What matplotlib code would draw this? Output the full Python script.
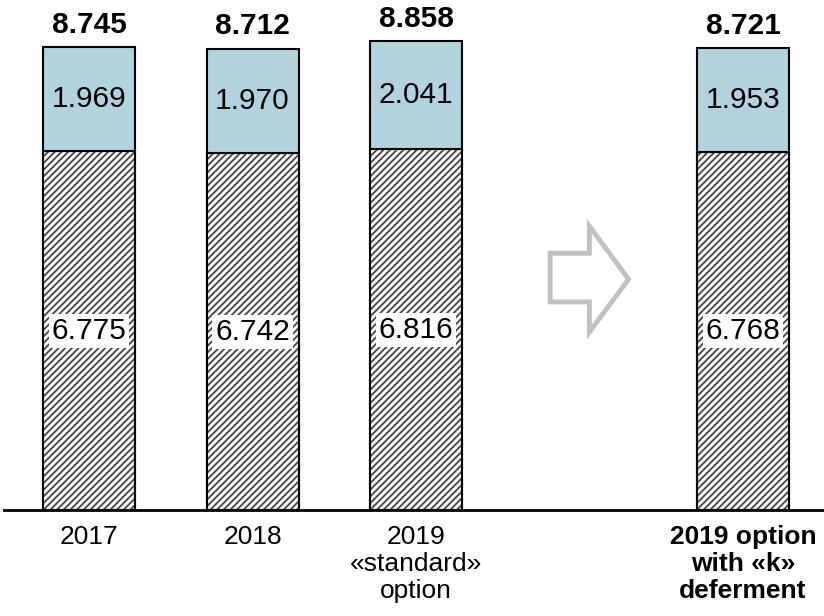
import matplotlib
matplotlib.use("Agg")
import matplotlib.pyplot as plt
from matplotlib.patches import Polygon

plt.rcParams['font.family'] = ['Liberation Sans', 'DejaVu Sans']
plt.rcParams['hatch.linewidth'] = 1.3

categories = ["2017", "2018", "2019\n«standard»\noption", "2019 option\nwith «k»\ndeferment"]
positions = [0, 1, 2, 4]
bottom_vals = [6.775, 6.742, 6.816, 6.768]
top_vals = [1.969, 1.970, 2.041, 1.953]
totals = [8.745, 8.712, 8.858, 8.721]
bottom_labels = ["6.775", "6.742", "6.816", "6.768"]
top_labels = ["1.969", "1.970", "2.041", "1.953"]
total_labels = ["8.745", "8.712", "8.858", "8.721"]

W, H = 824, 616
fig = plt.figure(figsize=(W / 100, H / 100), dpi=100)
ax = fig.add_axes([4 / W, 106 / H, 1 - 4 / W, 1 - 106 / H])

bw = 0.563
ax.bar(positions, bottom_vals, width=bw, color='white', edgecolor='#444444',
       hatch='/////', linewidth=1.5, zorder=2)
ax.bar(positions, bottom_vals, width=bw, color='none', edgecolor='black',
       linewidth=1.5, zorder=2)
ax.bar(positions, top_vals, width=bw, bottom=bottom_vals, color='#b2d2dd',
       edgecolor='black', linewidth=1.5, zorder=2)

for x, b, t, tot, bl, tl, totl in zip(positions, bottom_vals, top_vals, totals,
                                       bottom_labels, top_labels, total_labels):
    ax.text(x, b / 2, bl, ha='center', va='center', fontsize=21.5, zorder=4,
            bbox=dict(boxstyle='square,pad=0.1', facecolor='white', edgecolor='none'))
    ax.text(x, b + t / 2, tl, ha='center', va='center', fontsize=21.5, zorder=4)
    ax.annotate(totl, (x, tot), xytext=(0, 6), textcoords='offset points',
                ha='center', va='bottom', fontsize=21.5, fontweight='bold', zorder=4)

# decorative arrow between groups
arrow = Polygon([(2.82, 3.93), (3.06, 3.93), (3.06, 3.36), (3.30, 4.36),
                 (3.06, 5.36), (3.06, 4.85), (2.82, 4.85)], closed=True,
                facecolor='white', edgecolor='#c0c0c0', linewidth=3.5,
                joinstyle='miter', zorder=3)
ax.add_patch(arrow)

ax.set_xlim(-0.52, 4.495)
ax.set_ylim(0, 510 / 52.94)
for s in ['top', 'right', 'left']:
    ax.spines[s].set_visible(False)
ax.spines['bottom'].set_linewidth(2)
ax.set_yticks([])
ax.set_xticks(positions)
ax.set_xticklabels(categories, fontsize=19, linespacing=1.15)
ax.tick_params(axis='x', length=0, pad=11)
for lbl in ax.get_xticklabels()[3:]:
    lbl.set_fontweight('bold')

fig.savefig('out.png', dpi=100)
